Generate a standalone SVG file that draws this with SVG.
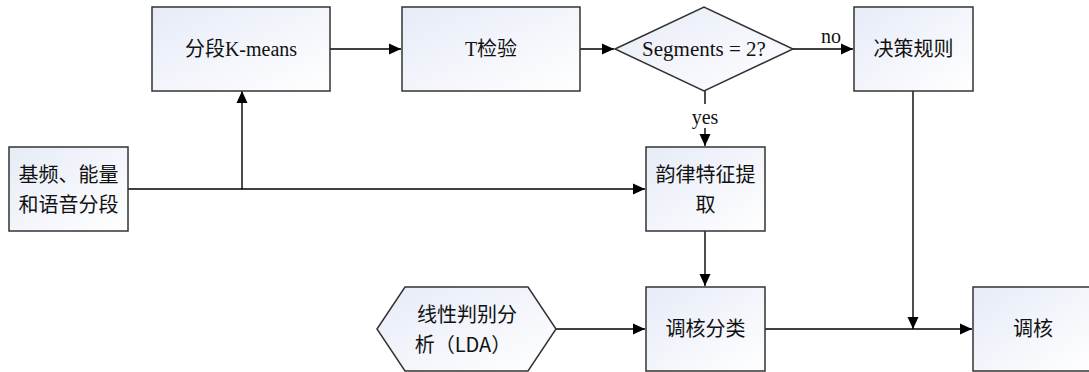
<svg xmlns="http://www.w3.org/2000/svg" width="1089" height="372" viewBox="0 0 1089 372">
<defs>
<linearGradient id="g" x1="0" y1="0" x2="1" y2="1">
<stop offset="0" stop-color="#e6ebf7"/>
<stop offset="1" stop-color="#ffffff"/>
</linearGradient>
<marker id="arr" markerUnits="userSpaceOnUse" markerWidth="12" markerHeight="12" refX="12" refY="6" orient="auto">
<path d="M0,0.5 L12,6 L0,11.5 z" fill="#000"/>
</marker>
<style>
.n{fill:url(#g);stroke:#333;stroke-width:1.5}
.c{fill:none;stroke:#000;stroke-width:1.4}
.a{marker-end:url(#arr)}
.s{font-family:"Noto Sans CJK SC","Noto Sans",sans-serif;font-size:20px;fill:#111;text-anchor:middle}
.l{font-family:"Liberation Serif",serif;font-size:20px;fill:#111;text-anchor:middle}
</style>
</defs>
<rect width="1089" height="372" fill="#fff"/>
<g id="connectors">
<path class="c a" d="M128,189 H645"/>
<path class="c a" d="M242,189 V91"/>
<path class="c a" d="M330,49 H401"/>
<path class="c a" d="M580,49 H614"/>
<path class="c a" d="M793,49 H853"/>
<path class="c" d="M705,91 V104"/>
<path class="c a" d="M705,128 V146"/>
<path class="c a" d="M705,231 V286"/>
<path class="c a" d="M556,329 H645"/>
<path class="c a" d="M765,329 H972"/>
<path class="c a" d="M913,91 V329"/>
<text class="l" x="831" y="43">no</text>
<text class="l" x="705" y="124" font-size="19">yes</text>
</g>
<g id="kmeans">
<rect class="n" x="152" y="7" width="178" height="84"/>
<text x="241" y="56" font-size="20" text-anchor="middle" fill="#111"><tspan font-family="Noto Sans CJK SC, sans-serif">分段</tspan><tspan font-family="Liberation Serif, serif">K-means</tspan></text>
</g>
<g id="ttest">
<rect class="n" x="402" y="7" width="178" height="84"/>
<text x="491" y="56" font-size="20" text-anchor="middle" fill="#111"><tspan font-family="Liberation Serif, serif">T</tspan><tspan font-family="Noto Sans CJK SC, sans-serif">检验</tspan></text>
</g>
<g id="decision">
<polygon class="n" points="615,49 704,7 793,49 704,91"/>
<text x="704" y="56" font-family="Liberation Serif, serif" font-size="21" text-anchor="middle" fill="#111">Segments = 2?</text>
</g>
<g id="rules">
<rect class="n" x="854" y="7" width="119" height="84"/>
<text class="s" x="913.5" y="56">决策规则</text>
</g>
<g id="input">
<rect class="n" x="9" y="147" width="119" height="84"/>
<text class="s" x="68.5" y="182">基频、能量</text>
<text class="s" x="68.5" y="212">和语音分段</text>
</g>
<g id="prosody">
<rect class="n" x="646" y="147" width="119" height="84"/>
<text class="s" x="705.5" y="182">韵律特征提</text>
<text class="s" x="705.5" y="212">取</text>
</g>
<g id="lda">
<polygon class="n" points="377,329 405,287 528,287 556,329 528,371 405,371"/>
<text class="s" x="467" y="322">线性判别分</text>
<text class="s" x="463" y="352">析（LDA）</text>
</g>
<g id="classify">
<rect class="n" x="646" y="287" width="119" height="84"/>
<text class="s" x="705.5" y="336">调核分类</text>
</g>
<g id="nucleus">
<rect class="n" x="973" y="287" width="119" height="84"/>
<text class="s" x="1033" y="336">调核</text>
</g>
</svg>
